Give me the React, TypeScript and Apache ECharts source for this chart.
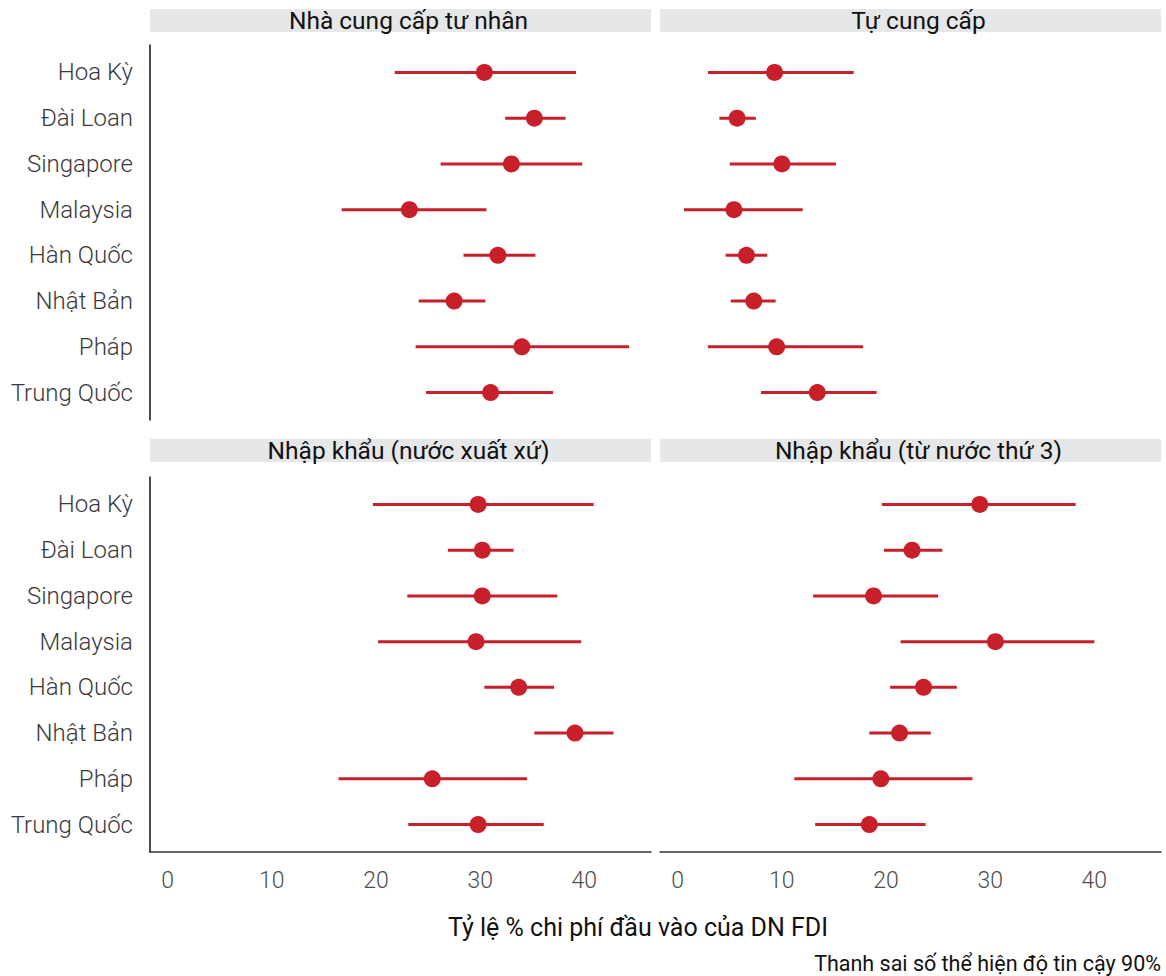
import React, { useEffect, useRef } from "react";
import * as echarts from "echarts";

const countries = ["Hoa Kỳ", "Đài Loan", "Singapore", "Malaysia", "Hàn Quốc", "Nhật Bản", "Pháp", "Trung Quốc"];
const panelTitles = ["Nhà cung cấp tư nhân", "Tự cung cấp", "Nhập khẩu (nước xuất xứ)", "Nhập khẩu (từ nước thứ 3)"];

// Panel 1: Nhà cung cấp tư nhân
const privateMean = [30.4, 35.2, 33.0, 23.2, 31.7, 27.5, 34.0, 31.0];
const privateLow = [21.8, 32.4, 26.2, 16.7, 28.4, 24.1, 23.8, 24.8];
const privateHigh = [39.2, 38.2, 39.8, 30.6, 35.3, 30.5, 44.3, 37.0];
// Panel 2: Tự cung cấp
const selfMean = [9.3, 5.7, 10.0, 5.4, 6.6, 7.3, 9.5, 13.4];
const selfLow = [2.9, 4.0, 5.0, 0.6, 4.6, 5.1, 2.9, 8.0];
const selfHigh = [16.9, 7.5, 15.2, 12.0, 8.6, 9.4, 17.8, 19.1];
// Panel 3: Nhập khẩu (nước xuất xứ)
const originMean = [29.8, 30.2, 30.2, 29.6, 33.7, 39.1, 25.4, 29.8];
const originLow = [19.7, 26.9, 23.0, 20.2, 30.4, 35.2, 16.4, 23.1];
const originHigh = [40.9, 33.2, 37.4, 39.7, 37.1, 42.8, 34.5, 36.1];
// Panel 4: Nhập khẩu (từ nước thứ 3)
const thirdMean = [29.0, 22.5, 18.8, 30.5, 23.6, 21.3, 19.5, 18.4];
const thirdLow = [19.6, 19.8, 13.0, 21.4, 20.4, 18.4, 11.2, 13.2];
const thirdHigh = [38.2, 25.4, 25.0, 40.0, 26.8, 24.3, 28.3, 23.8];

const xTicks = [0, 10, 20, 30, 40];
const xTitle = "Tỷ lệ % chi phí đầu vào của DN FDI";
const caption = "Thanh sai số thể hiện độ tin cậy 90%";

const panelsData = [
  { mean: privateMean, low: privateLow, high: privateHigh },
  { mean: selfMean, low: selfLow, high: selfHigh },
  { mean: originMean, low: originLow, high: originHigh },
  { mean: thirdMean, low: thirdLow, high: thirdHigh },
];

const RED = "#C8202A";
const FONT = "Roboto, 'Liberation Sans', sans-serif";

const layout = [
  { left: 150, top: 45, stripTop: 9, col: 0, row: 0 },
  { left: 660, top: 45, stripTop: 9, col: 1, row: 0 },
  { left: 150, top: 477, stripTop: 439, col: 0, row: 1 },
  { left: 660, top: 477, stripTop: 439, col: 1, row: 1 },
];
const PW = 501;
const PH = 375;

export default function App() {
  const ref = useRef<HTMLDivElement>(null);
  useEffect(() => {
    if (!ref.current) return;
    const chart = echarts.init(ref.current, undefined, { renderer: "svg" });
    const grids: any[] = [];
    const xAxes: any[] = [];
    const yAxes: any[] = [];
    const series: any[] = [];
    const graphics: any[] = [];
    layout.forEach((p, i) => {
      grids.push({ left: p.left, top: p.top, width: PW, height: PH, containLabel: false });
      const bottom = p.row === 1;
      const leftCol = p.col === 0;
      xAxes.push({
        type: "value",
        gridIndex: i,
        position: "bottom",
        min: -1.7,
        max: 46.4,
        splitLine: { show: false },
        axisTick: { show: false },
        axisLine: { show: bottom, onZero: false, lineStyle: { color: "#333", width: 1.5 } },
        axisLabel: {
          show: bottom,
          customValues: xTicks,
          margin: 17,
          fontFamily: FONT,
          fontWeight: 300,
          fontSize: 23,
          color: "#4d4d4d",
        },
      });
      yAxes.push({
        type: "value",
        gridIndex: i,
        position: "left",
        min: -0.6,
        max: 7.6,
        inverse: true,
        splitLine: { show: false },
        axisTick: { show: false },
        axisLine: { show: leftCol, onZero: false, lineStyle: { color: "#111", width: 1.5 } },
        axisLabel: {
          show: leftCol,
          customValues: countries.map((_, k) => k),
          formatter: (v: number) => countries[Math.round(v)] ?? "",
          margin: 17,
          fontFamily: FONT,
          fontWeight: 300,
          fontSize: 24,
          color: "#3a3a3a",
        },
      });
      const d = panelsData[i];
      series.push({
        type: "custom",
        xAxisIndex: i,
        yAxisIndex: i,
        data: countries.map((_, k) => [d.low[k], d.high[k], k]),
        encode: { x: [0, 1], y: 2 },
        renderItem: (params: any, api: any) => {
          const a = api.coord([api.value(0), api.value(2)]);
          const b = api.coord([api.value(1), api.value(2)]);
          return {
            type: "line",
            shape: { x1: a[0], y1: a[1], x2: b[0], y2: b[1] },
            style: { stroke: RED, lineWidth: 3 },
          };
        },
        silent: true,
        z: 2,
      });
      series.push({
        type: "scatter",
        xAxisIndex: i,
        yAxisIndex: i,
        data: countries.map((_, k) => [d.mean[k], k]),
        symbol: "circle",
        symbolSize: 17,
        itemStyle: { color: RED, opacity: 1 },
        z: 3,
      });
      graphics.push({
        type: "rect",
        shape: { x: p.left, y: p.stripTop, width: PW, height: 23 },
        style: { fill: "#E6E7E8" },
        silent: true,
      });
      graphics.push({
        type: "text",
        x: p.left + PW / 2 + 8,
        y: p.stripTop + 11.5,
        style: {
          text: panelTitles[i],
          fontFamily: FONT,
          fontSize: 24.5,
          fontWeight: 400,
          fill: "#111",
          align: "center",
          verticalAlign: "middle",
        },
      });
    });
    graphics.push({
      type: "text",
      x: 638,
      y: 927,
      style: {
        text: xTitle,
        fontFamily: FONT,
        fontSize: 25,
        fill: "#111",
        align: "center",
        verticalAlign: "middle",
      },
    });
    graphics.push({
      type: "text",
      x: 1161,
      y: 963,
      style: {
        text: caption,
        fontFamily: FONT,
        fontSize: 21.5,
        fill: "#111",
        align: "right",
        verticalAlign: "middle",
      },
    });
    chart.setOption({
      animation: false,
      backgroundColor: "#ffffff",
      grid: grids,
      xAxis: xAxes,
      yAxis: yAxes,
      series,
      graphic: graphics,
    });
    return () => chart.dispose();
  }, []);
  return (
    <div
      ref={ref}
      style={{ position: "fixed", left: 0, top: 0, width: 1166, height: 976 }}
    />
  );
}
